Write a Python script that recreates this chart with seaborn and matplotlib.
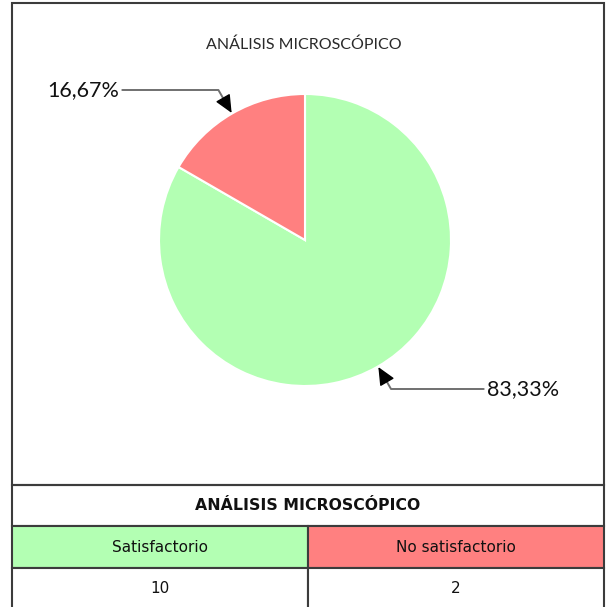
import matplotlib
matplotlib.use("Agg")
import matplotlib.pyplot as plt
import seaborn as sns
from matplotlib.patches import Rectangle
import numpy as np

# ---- data ----
categories = ["Satisfactorio", "No satisfactorio"]
counts = [10, 2]
pct_labels = ["83,33%", "16,67%"]
colors = ["#b3ffb3", "#ff8080"]
chart_title = "ANÁLISIS MICROSCÓPICO"

sns.set_theme(style="white")
plt.rcParams['font.family'] = ['DejaVu Sans']

W, H = 606, 607
fig = plt.figure(figsize=(W / 100, H / 100), dpi=100)

def fx(px):
    return px / W

def fy(py):
    return 1 - py / H

EDGE = "#3c3c3c"
LW = 1.5

# ---- chart frame ----
fig.add_artist(Rectangle((fx(12), fy(485)), fx(604) - fx(12), fy(3) - fy(485),
                         transform=fig.transFigure, fill=False, ec=EDGE, lw=LW))

fig.text(fx(304), fy(45), chart_title, ha="center", va="center",
         fontsize=11.5, family="Lato", fontweight="normal", color="#2a2a2a")

# ---- pie ----
cx, cy, r = 305, 240, 146
ax = fig.add_axes([fx(cx - r), fy(cy + r), 2 * r / W, 2 * r / H])
wedges, _ = ax.pie(counts, colors=colors, startangle=90, counterclock=False,
                   wedgeprops=dict(edgecolor="white", linewidth=1.5))
ax.set_xlim(-1, 1)
ax.set_ylim(-1, 1)
ax.set_aspect("auto")
ax.axis("off")

total = sum(counts)
start = 90.0
text_pos = {0: (487, 389, "left"), 1: (119, 90, "right")}
for i, c in enumerate(counts):
    span = 360.0 * c / total
    mid = start - span / 2
    start -= span
    a = np.deg2rad(mid)
    tip = (np.cos(a) * 1.005, np.sin(a) * 1.005)
    tx, ty, ha = text_pos[i]
    xt = (tx - cx) / r
    yt = (cy - ty) / r
    ax.annotate(pct_labels[i], xy=tip, xytext=(xt, yt), ha=ha, va="center",
                fontsize=15.5, family="Lato", color="#111111",
                arrowprops=dict(arrowstyle="-", color="#707070", lw=1.4,
                                connectionstyle=f"angle,angleA=0,angleB={mid},rad=0",
                                shrinkA=0, shrinkB=4),
                annotation_clip=False)
    ax.annotate("", xy=tip, xytext=(np.cos(a) * 1.095, np.sin(a) * 1.095),
                arrowprops=dict(arrowstyle="-|>,head_length=0.55,head_width=0.25",
                                color="black", lw=1.0, mutation_scale=20,
                                shrinkA=0, shrinkB=0),
                annotation_clip=False)

# ---- table ----
tax = fig.add_axes([fx(12), fy(609), fx(604) - fx(12), fy(485) - fy(609)])
tax.axis("off")
t1 = tax.table(cellText=[[chart_title]], cellLoc="center", bbox=[0, 2 / 3, 1, 1 / 3])
t2 = tax.table(cellText=[categories, [str(v) for v in counts]], cellLoc="center",
               bbox=[0, 0, 1, 2 / 3])
for t in (t1, t2):
    t.auto_set_font_size(False)
    for (rr, cc), cell in t.get_celld().items():
        cell.set_edgecolor(EDGE)
        cell.set_linewidth(LW)
        cell.get_text().set_fontsize(11)
        cell.get_text().set_color("#111111")
t1[0, 0].get_text().set_fontweight("bold")
t1[0, 0].get_text().set_fontsize(11.3)
for j in range(2):
    t2[0, j].set_facecolor(colors[j])

fig.savefig("out.png", dpi=100)
